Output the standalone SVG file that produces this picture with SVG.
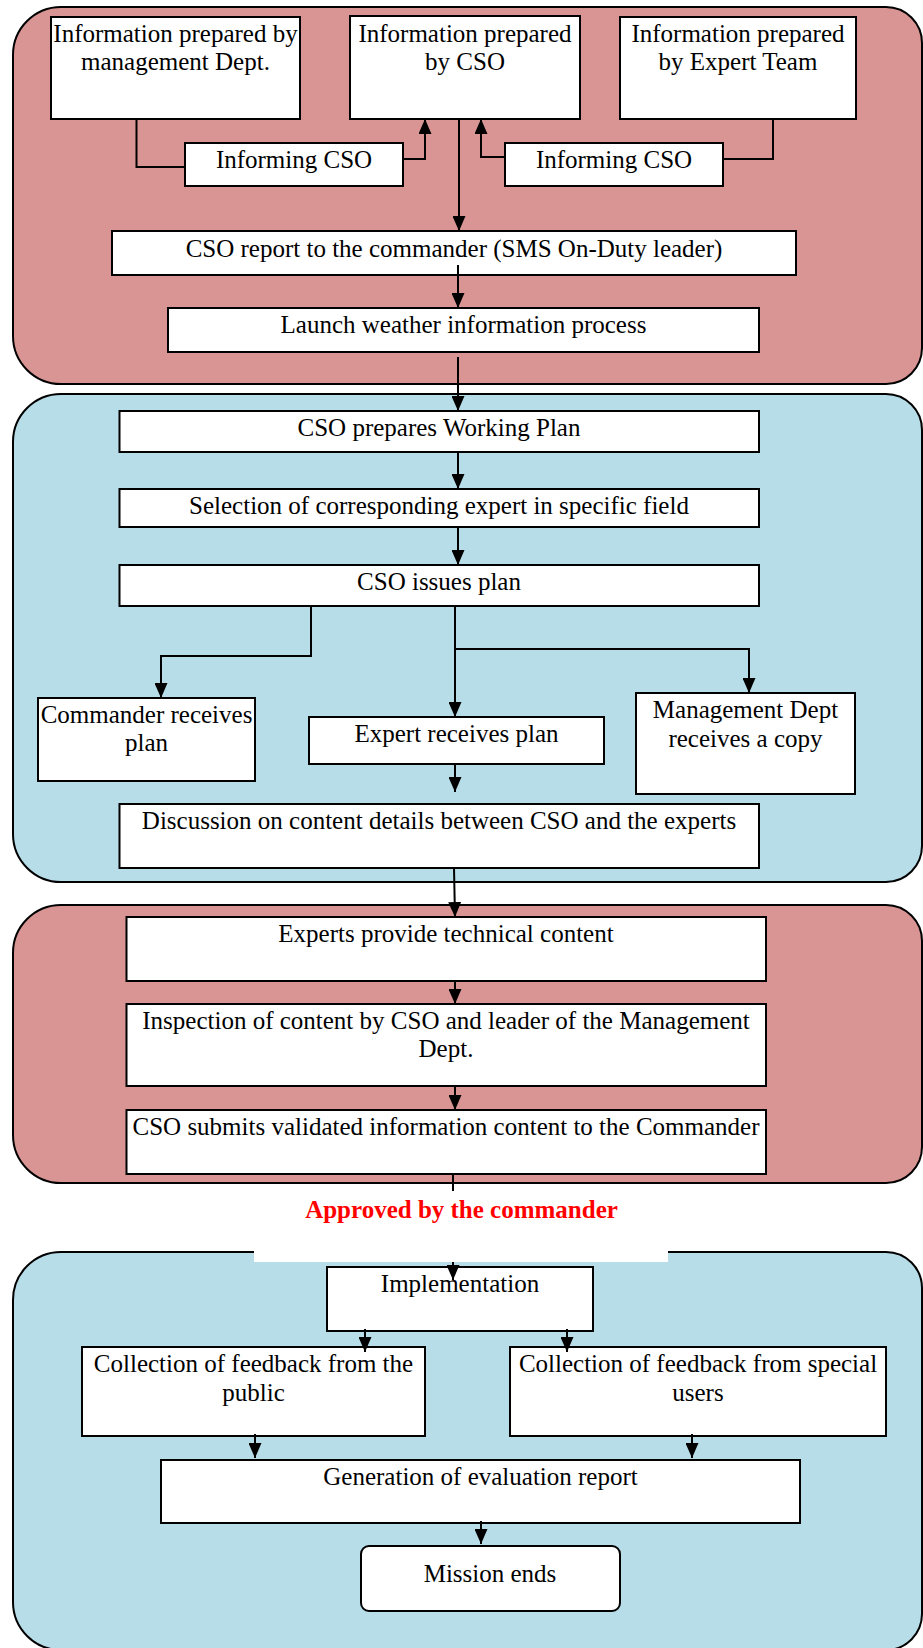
<svg xmlns="http://www.w3.org/2000/svg" width="923" height="1648" viewBox="0 0 923 1648">
<defs>
<style>
.red{fill:#D99594;stroke:#000;stroke-width:2}
.blue{fill:#B7DDE8;stroke:#000;stroke-width:2}
.box{fill:#fff;stroke:#000;stroke-width:2}
.t{font-family:"Liberation Serif","Times New Roman",serif;font-size:25px;fill:#000;text-anchor:middle}
.ap{font-family:"Liberation Serif","Times New Roman",serif;font-size:25px;font-weight:bold;fill:#FF0000;text-anchor:middle}
.c{fill:none;stroke:#000;stroke-width:2}
</style>
<marker id="arr" markerUnits="userSpaceOnUse" markerWidth="16" markerHeight="13" refX="15" refY="6.5" orient="auto">
<path d="M0,0 L15,6.5 L0,13 Z" fill="#000"/>
</marker>
</defs>
<rect width="923" height="1648" fill="#fff"/>
<g id="panels">
<path class="red" d="M61,7 H886 A36,36 0 0 1 922,43 V348 A36,36 0 0 1 886,384 H61 A48,48 0 0 1 13,336 V55 A48,48 0 0 1 61,7 Z"/>
<path class="blue" d="M61,394 H886 A36,36 0 0 1 922,430 V846 A36,36 0 0 1 886,882 H61 A48,48 0 0 1 13,834 V442 A48,48 0 0 1 61,394 Z"/>
<path class="red" d="M61,905 H886 A36,36 0 0 1 922,941 V1147 A36,36 0 0 1 886,1183 H61 A48,48 0 0 1 13,1135 V953 A48,48 0 0 1 61,905 Z"/>
<path class="blue" d="M61,1252 H886 A36,36 0 0 1 922,1288 V1614 A36,36 0 0 1 886,1650 H61 A48,48 0 0 1 13,1602 V1300 A48,48 0 0 1 61,1252 Z"/>
<rect x="254" y="1238" width="414" height="24" fill="#fff"/>
</g>
<g id="n1"><rect class="box" x="51" y="17" width="249" height="102"/><text class="t" x="175.5" y="41.5">Information prepared by</text><text class="t" x="175.5" y="70">management Dept.</text></g>
<g id="n2"><rect class="box" x="350" y="16" width="230" height="103"/><text class="t" x="465" y="41.5">Information prepared</text><text class="t" x="465" y="70">by CSO</text></g>
<g id="n3"><rect class="box" x="620" y="17" width="236" height="102"/><text class="t" x="738" y="41.5">Information prepared</text><text class="t" x="738" y="70">by Expert Team</text></g>
<g id="n4"><rect class="box" x="185" y="143" width="218" height="43"/><text class="t" x="294" y="168">Informing CSO</text></g>
<g id="n5"><rect class="box" x="505" y="143" width="218" height="43"/><text class="t" x="614" y="168">Informing CSO</text></g>
<g id="n6"><rect class="box" x="112" y="231" width="684" height="44"/><text class="t" x="454" y="256.5">CSO report to the commander (SMS On-Duty leader)</text></g>
<g id="n7"><rect class="box" x="168" y="308" width="591" height="44"/><text class="t" x="463.5" y="333">Launch weather information process</text></g>
<g id="n8"><rect class="box" x="119.5" y="411" width="639.5" height="41"/><text class="t" x="439" y="436">CSO prepares Working Plan</text></g>
<g id="n9"><rect class="box" x="119.5" y="489" width="639.5" height="38"/><text class="t" x="439" y="513.5">Selection of corresponding expert in specific field</text></g>
<g id="n10"><rect class="box" x="119.5" y="565" width="639.5" height="41"/><text class="t" x="439" y="590">CSO issues plan</text></g>
<g id="n11"><rect class="box" x="38" y="698" width="217" height="83"/><text class="t" x="146.5" y="722.5">Commander receives</text><text class="t" x="146.5" y="751">plan</text></g>
<g id="n12"><rect class="box" x="309" y="717" width="295" height="47"/><text class="t" x="456.5" y="741.5">Expert receives plan</text></g>
<g id="n13"><rect class="box" x="636" y="693" width="219" height="101"/><text class="t" x="745.5" y="718">Management Dept</text><text class="t" x="745.5" y="747">receives a copy</text></g>
<g id="n14"><rect class="box" x="119.5" y="804" width="639.5" height="64"/><text class="t" x="439" y="829">Discussion on content details between CSO and the experts</text></g>
<g id="n15"><rect class="box" x="126.5" y="917" width="639.5" height="64"/><text class="t" x="446" y="941.5">Experts provide technical content</text></g>
<g id="n16"><rect class="box" x="126.5" y="1004" width="639.5" height="82"/><text class="t" x="446" y="1028.5">Inspection of content by CSO and leader of the Management</text><text class="t" x="446" y="1057">Dept.</text></g>
<g id="n17"><rect class="box" x="126.5" y="1110" width="639.5" height="64"/><text class="t" x="446" y="1135">CSO submits validated information content to the Commander</text></g>
<g id="n18"><text class="ap" x="461.5" y="1218">Approved by the commander</text></g>
<g id="n19"><rect class="box" x="327" y="1267" width="266" height="64"/><text class="t" x="460" y="1291.5">Implementation</text></g>
<g id="n20"><rect class="box" x="82" y="1347" width="343" height="89"/><text class="t" x="253.5" y="1371.5">Collection of feedback from the</text><text class="t" x="253.5" y="1400.5">public</text></g>
<g id="n21"><rect class="box" x="510" y="1347" width="376" height="89"/><text class="t" x="698" y="1371.5">Collection of feedback from special</text><text class="t" x="698" y="1400.5">users</text></g>
<g id="n22"><rect class="box" x="161" y="1460" width="639" height="63"/><text class="t" x="480.5" y="1485">Generation of evaluation report</text></g>
<g id="n23"><rect class="box" x="361" y="1546" width="259" height="65" rx="8" ry="8"/><text class="t" x="490" y="1582">Mission ends</text></g>
<g id="connectors">
<polyline class="c" points="136.5,119 136.5,167 185,167"/>
<polyline class="c" points="403,159 425,159 425,119" marker-end="url(#arr)"/>
<polyline class="c" points="505,157 481,157 481,119" marker-end="url(#arr)"/>
<polyline class="c" points="773,119 773,159 723,159"/>
<line class="c" x1="459" y1="119" x2="459" y2="231" marker-end="url(#arr)"/>
<line class="c" x1="458" y1="265" x2="458" y2="308" marker-end="url(#arr)"/>
<line class="c" x1="458" y1="357" x2="458" y2="411" marker-end="url(#arr)"/>
<line class="c" x1="458" y1="452" x2="458" y2="489" marker-end="url(#arr)"/>
<line class="c" x1="458" y1="527" x2="458" y2="565" marker-end="url(#arr)"/>
<polyline class="c" points="311,606 311,656 161,656 161,698" marker-end="url(#arr)"/>
<line class="c" x1="455" y1="606" x2="455" y2="717" marker-end="url(#arr)"/>
<polyline class="c" points="455,649 749,649 749,693" marker-end="url(#arr)"/>
<line class="c" x1="455" y1="764" x2="455" y2="792" marker-end="url(#arr)"/>
<line class="c" x1="454" y1="868" x2="455" y2="917" marker-end="url(#arr)"/>
<line class="c" x1="455" y1="981" x2="455" y2="1004" marker-end="url(#arr)"/>
<line class="c" x1="455" y1="1086" x2="455" y2="1110" marker-end="url(#arr)"/>
<line class="c" x1="453" y1="1174" x2="453" y2="1191"/>
<line class="c" x1="453" y1="1262" x2="453" y2="1280" marker-end="url(#arr)"/>
<line class="c" x1="365" y1="1329" x2="365" y2="1352" marker-end="url(#arr)"/>
<line class="c" x1="567" y1="1329" x2="567" y2="1352" marker-end="url(#arr)"/>
<line class="c" x1="255" y1="1434" x2="255" y2="1458" marker-end="url(#arr)"/>
<line class="c" x1="692" y1="1434" x2="692" y2="1458" marker-end="url(#arr)"/>
<line class="c" x1="481" y1="1521" x2="481" y2="1544" marker-end="url(#arr)"/>
</g>
</svg>
